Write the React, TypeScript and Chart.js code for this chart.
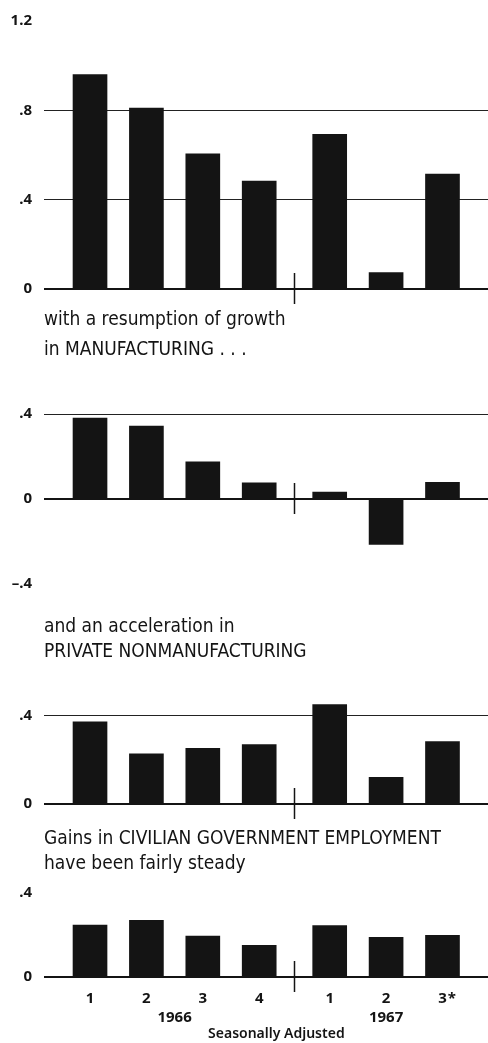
import React, { useEffect, useRef } from "react";
import { Chart, registerables } from "chart.js";

Chart.register(...registerables);

// ---------- data ----------
const QUARTERS = ["1", "2", "3", "4", "1", "2", "3*"];
const YEARS = ["1966", "1966", "1966", "1966", "1967", "1967", "1967"];

const TOTAL_NONFARM = [0.96, 0.81, 0.605, 0.483, 0.693, 0.074, 0.515];
const MANUFACTURING = [0.381, 0.343, 0.175, 0.076, 0.033, -0.214, 0.078];
const PRIVATE_NONMFG = [0.372, 0.227, 0.252, 0.269, 0.45, 0.121, 0.283];
const GOVERNMENT = [0.246, 0.268, 0.194, 0.15, 0.243, 0.188, 0.197];

const TICKS_TOTAL = [0, 0.4, 0.8, 1.2];
const TICKS_MFG = [-0.4, 0, 0.4];
const TICKS_PRIV = [0, 0.4];
const TICKS_GOV = [0, 0.4];

const GRID_TOTAL = [0.4, 0.8];
const GRID_MFG = [0.4];
const GRID_PRIV = [0.4];
const GRID_GOV: number[] = [];

const TITLE_MFG = ["with a resumption of growth", "in MANUFACTURING . . ."];
const TITLE_PRIV = ["and an acceleration in", "PRIVATE NONMANUFACTURING"];
const TITLE_GOV = ["Gains in CIVILIAN GOVERNMENT EMPLOYMENT", "have been fairly steady"];
const AXIS_NOTE = "Seasonally Adjusted";

// ---------- layout helpers ----------
const YEAR_GAP = 0.25;
const POSITIONS: number[] = [];
YEARS.forEach((y, i) => {
  if (i === 0) POSITIONS.push(0);
  else POSITIONS.push(POSITIONS[i - 1] + 1 + (y !== YEARS[i - 1] ? YEAR_GAP : 0));
});
const DIVIDER_POS = (POSITIONS[3] + POSITIONS[4]) / 2;
const X_MIN = -0.816;
const X_MAX = 7.057;

const INK = "#141414";
const TITLE_FONT = '"Liberation Sans Narrow", "DejaVu Sans Condensed", "Liberation Sans", sans-serif';
const TICK_FONT = '"Noto Sans", "DejaVu Sans", sans-serif';

function fmtTick(v: number): string {
  if (v === 0) return "0";
  const s = Math.abs(v).toFixed(1).replace(/^0/, "");
  return v < 0 ? "\u2013" + s : s;
}

const dividerPlugin = {
  id: "yearDivider",
  afterDatasetsDraw(chart: any) {
    const ctx = chart.ctx;
    const x = Math.round(chart.scales.x.getPixelForValue(DIVIDER_POS)) + 0.5;
    const y = chart.scales.y.getPixelForValue(0);
    ctx.save();
    ctx.strokeStyle = INK;
    ctx.lineWidth = 1.5;
    ctx.beginPath();
    ctx.moveTo(x, y - 16);
    ctx.lineTo(x, y + 15);
    ctx.stroke();
    ctx.restore();
  },
};

const bottomLabelsPlugin = {
  id: "bottomLabels",
  afterDraw(chart: any, _args: any, opts: any) {
    if (!opts || !opts.enabled) return;
    const ctx = chart.ctx;
    const xs = chart.scales.x;
    const y0 = chart.scales.y.getPixelForValue(0);
    ctx.save();
    ctx.fillStyle = INK;
    ctx.textBaseline = "middle";
    ctx.font = `bold 15px ${TICK_FONT}`;
    QUARTERS.forEach((q, i) => {
      const x = xs.getPixelForValue(POSITIONS[i]);
      const star = q.endsWith("*");
      const base = star ? q.slice(0, -1) : q;
      ctx.textAlign = "center";
      ctx.fillText(base, x, y0 + 22);
      if (star) {
        ctx.textAlign = "left";
        ctx.fillText("*", x + ctx.measureText(base).width / 2 + 1, y0 + 22);
      }
    });
    const uniqueYears = Array.from(new Set(YEARS));
    const centers: number[] = [];
    uniqueYears.forEach((yr) => {
      const idx = YEARS.map((y, i) => (y === yr ? i : -1)).filter((i) => i >= 0);
      const c = (POSITIONS[idx[0]] + POSITIONS[idx[idx.length - 1]]) / 2;
      centers.push(c);
      ctx.textAlign = "center";
      ctx.fillText(yr, xs.getPixelForValue(c), y0 + 41);
    });
    ctx.font = `600 14px ${TICK_FONT}`;
    const noteC = centers.reduce((a, b) => a + b, 0) / centers.length;
    ctx.fillText(AXIS_NOTE, xs.getPixelForValue(noteC) - 4, y0 + 57);
    ctx.restore();
  },
};

type PanelSpec = {
  top: number;
  height: number;
  padTop: number;
  padBottom: number;
  title?: string[];
  titleLh?: number;
  titlePadTop?: number;
  titlePadBottom?: number;
  values: number[];
  ticks: number[];
  grid: number[];
  min: number;
  max: number;
  bottomLabels?: boolean;
};

const PANELS: PanelSpec[] = [
  { top: 0, height: 310, padTop: 14.6, padBottom: 20.3, values: TOTAL_NONFARM, ticks: TICKS_TOTAL, grid: GRID_TOTAL, min: 0, max: 1.2 },
  { top: 300, height: 305, padTop: 0, padBottom: 13, title: TITLE_MFG, titleLh: 30, titlePadTop: 5, titlePadBottom: 49, values: MANUFACTURING, ticks: TICKS_MFG, grid: GRID_MFG, min: -0.4, max: 0.4 },
  { top: 605, height: 220, padTop: 0, padBottom: 16, title: TITLE_PRIV, titleLh: 25.5, titlePadTop: 9, titlePadBottom: 50.7, values: PRIVATE_NONMFG, ticks: TICKS_PRIV, grid: GRID_PRIV, min: 0, max: 0.4 },
  { top: 815, height: 228, padTop: 0, padBottom: 66, title: TITLE_GOV, titleLh: 25, titlePadTop: 12, titlePadBottom: 15.5, values: GOVERNMENT, ticks: TICKS_GOV, grid: GRID_GOV, min: 0, max: 0.4, bottomLabels: true },
];

function Panel({ spec }: { spec: PanelSpec }) {
  const ref = useRef<HTMLCanvasElement | null>(null);
  useEffect(() => {
    if (!ref.current) return;
    const chart = new Chart(ref.current, {
      type: "bar",
      data: {
        datasets: [
          {
            data: spec.values.map((v, i) => ({ x: POSITIONS[i], y: v })),
            backgroundColor: INK,
            borderWidth: 0,
            barThickness: 34,
            clip: false as any,
          } as any,
        ],
      },
      options: {
        animation: false,
        responsive: false,
        devicePixelRatio: 1,
        layout: { padding: { top: spec.padTop, bottom: spec.padBottom, left: 0, right: 0 } },
        plugins: {
          legend: { display: false },
          tooltip: { enabled: false },
          title: spec.title
            ? {
                display: true,
                text: spec.title,
                align: "start",
                fullSize: false,
                color: INK,
                font: { family: TITLE_FONT, size: 19, weight: "normal", lineHeight: `${spec.titleLh}px` as any },
                padding: { top: spec.titlePadTop, bottom: spec.titlePadBottom },
              }
            : { display: false },
          bottomLabels: { enabled: !!spec.bottomLabels },
        } as any,
        scales: {
          x: { type: "linear", min: X_MIN, max: X_MAX, offset: false, display: false },
          y: {
            min: spec.min,
            max: spec.max,
            afterBuildTicks: (s: any) => {
              s.ticks = spec.ticks.map((v) => ({ value: v }));
            },
            afterFit: (s: any) => {
              s.width = 44;
            },
            ticks: {
              padding: 12,
              color: INK,
              font: { family: TICK_FONT, size: 15, weight: "bold" },
              callback: (v: any) => fmtTick(Number(v)),
            },
            grid: {
              drawTicks: false,
              color: (c: any) => {
                const v = c.tick ? c.tick.value : NaN;
                if (v === 0) return INK;
                return spec.grid.includes(v) ? "#222" : "rgba(0,0,0,0)";
              },
              lineWidth: (c: any) => (c.tick && c.tick.value === 0 ? 2 : 1),
            },
            border: { display: false },
          },
        },
      } as any,
      plugins: [dividerPlugin, bottomLabelsPlugin],
    });
    return () => chart.destroy();
  }, [spec]);
  return (
    <div style={{ position: "absolute", left: 0, top: spec.top, width: 488, height: spec.height }}>
      <canvas ref={ref} width={488} height={spec.height} style={{ width: 488, height: spec.height, display: "block" }} />
    </div>
  );
}

export default function App() {
  return (
    <div style={{ position: "absolute", left: 0, top: 0, width: 488, height: 1043, background: "#fff", overflow: "hidden" }}>
      {PANELS.map((p, i) => (
        <Panel key={i} spec={p} />
      ))}
    </div>
  );
}
